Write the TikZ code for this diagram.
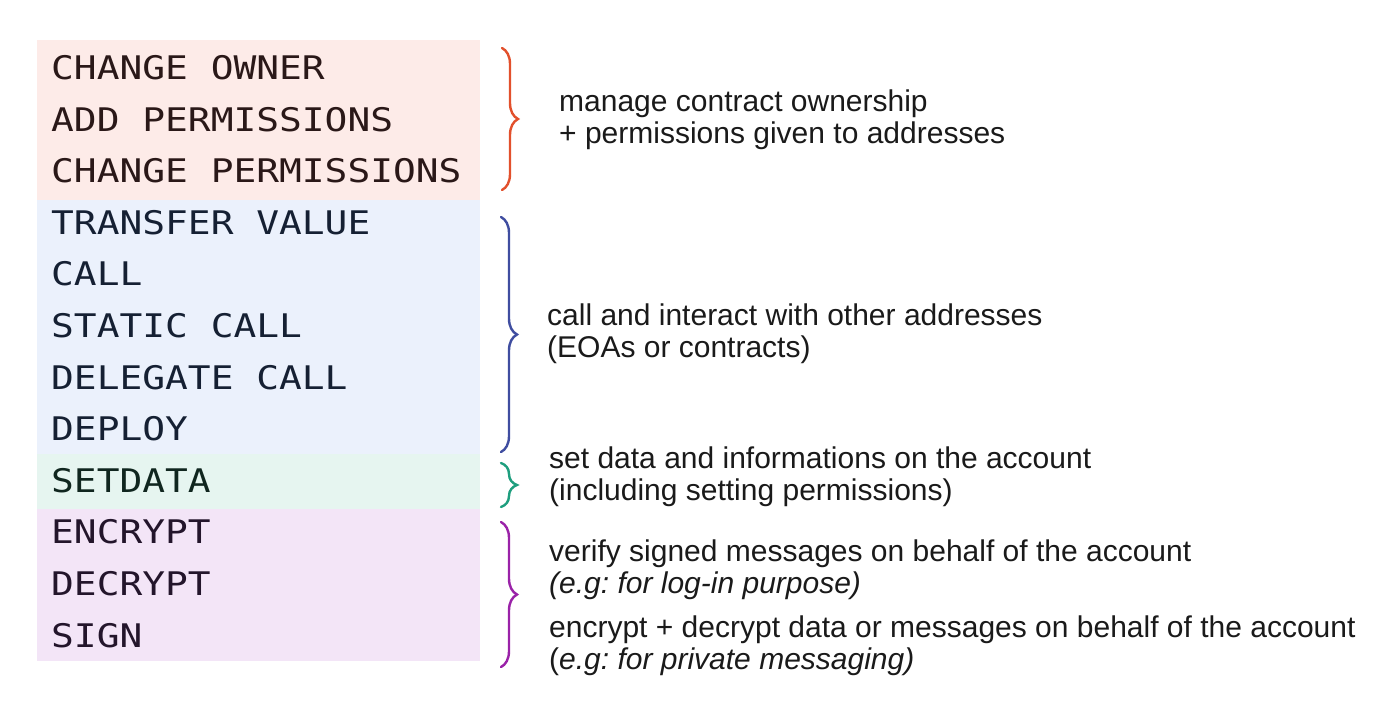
\documentclass[tikz,border=0pt]{standalone}
\usepackage{fontspec}
\setmainfont{Liberation Sans}
\newfontfamily\opmono[FakeStretch=1.165]{DejaVu Sans Mono}
\usetikzlibrary{decorations.pathreplacing}
\frenchspacing
\definecolor{bgred}{HTML}{FDEBE8}
\definecolor{bgblue}{HTML}{EBF1FC}
\definecolor{bggreen}{HTML}{E6F5F0}
\definecolor{bgpurple}{HTML}{F3E5F7}
\definecolor{txred}{HTML}{2A1818}
\definecolor{txblue}{HTML}{152033}
\definecolor{txgreen}{HTML}{10261F}
\definecolor{txpurple}{HTML}{23152B}
\definecolor{brred}{HTML}{E2502C}
\definecolor{brblue}{HTML}{3F4DA0}
\definecolor{brgreen}{HTML}{1E9E7E}
\definecolor{brpurple}{HTML}{9A22A8}
\definecolor{desc}{HTML}{1A1A1A}
\tikzset{
  opcode/.style={anchor=base west, inner sep=0pt, font=\opmono\fontsize{32.5}{36}\selectfont},
  note/.style={anchor=base west, inner sep=0pt, text=desc, font=\frenchspacing\fontsize{30}{34}\selectfont},
  bracestyle/.style={line width=2.4pt, line cap=round, decorate, decoration={brace, amplitude=16pt}},
}
\begin{document}
\begin{tikzpicture}[x=1pt,y=-1pt]
\useasboundingbox (0,0) rectangle (1396,716);
\fill[white] (0,0) rectangle (1396,716);
% background bands
\fill[bgred] (37,40) rectangle (480,200);
\fill[bgblue] (37,200) rectangle (480,454);
\fill[bggreen] (37,454) rectangle (480,509);
\fill[bgpurple] (37,509) rectangle (480,661);
% opcodes
\node[opcode, text=txred] (o1) at (51,79.5) {CHANGE OWNER};
\node[opcode, text=txred] (o2) at (51,131.1) {ADD PERMISSIONS};
\node[opcode, text=txred] (o3) at (51,182.7) {CHANGE PERMISSIONS};
\node[opcode, text=txblue] (o4) at (51,234.3) {TRANSFER VALUE};
\node[opcode, text=txblue] (o5) at (51,285.9) {CALL};
\node[opcode, text=txblue] (o6) at (51,337.5) {STATIC CALL};
\node[opcode, text=txblue] (o7) at (51,389.1) {DELEGATE CALL};
\node[opcode, text=txblue] (o8) at (51,440.7) {DEPLOY};
\node[opcode, text=txgreen] (o9) at (51,492.3) {SETDATA};
\node[opcode, text=txpurple] (o10) at (51,543.9) {ENCRYPT};
\node[opcode, text=txpurple] (o11) at (51,595.5) {DECRYPT};
\node[opcode, text=txpurple] (o12) at (51,647.1) {SIGN};
% braces
\draw[bracestyle, brred] (502,48) -- (502,190);
\draw[bracestyle, brblue] (501,217) -- (501,452);
\draw[bracestyle, brgreen] (501,463) -- (501,507);
\draw[bracestyle, brpurple] (501,522) -- (501,667);
% descriptions
\node[note] (d1) at (559,111) {manage contract ownership};
\node[note] (d2) at (559,143.5) {+ permissions given to addresses};
\node[note] (d3) at (547,325) {call and interact with other addresses};
\node[note] (d4) at (547,357) {(EOAs or contracts)};
\node[note] (d5) at (549,468) {set data and informations on the account};
\node[note] (d6) at (549,500.5) {(including setting permissions)};
\node[note] (d7) at (549,561) {verify signed messages on behalf of the account};
\node[note] (d8) at (549,593.5) {\itshape(e.g: for log-in purpose)};
\node[note] (d9) at (549,637.5) {encrypt + decrypt data or messages on behalf of the account};
\node[note] (d10) at (549,669.5) {(\itshape e.g: for private messaging)};
\end{tikzpicture}
\end{document}
